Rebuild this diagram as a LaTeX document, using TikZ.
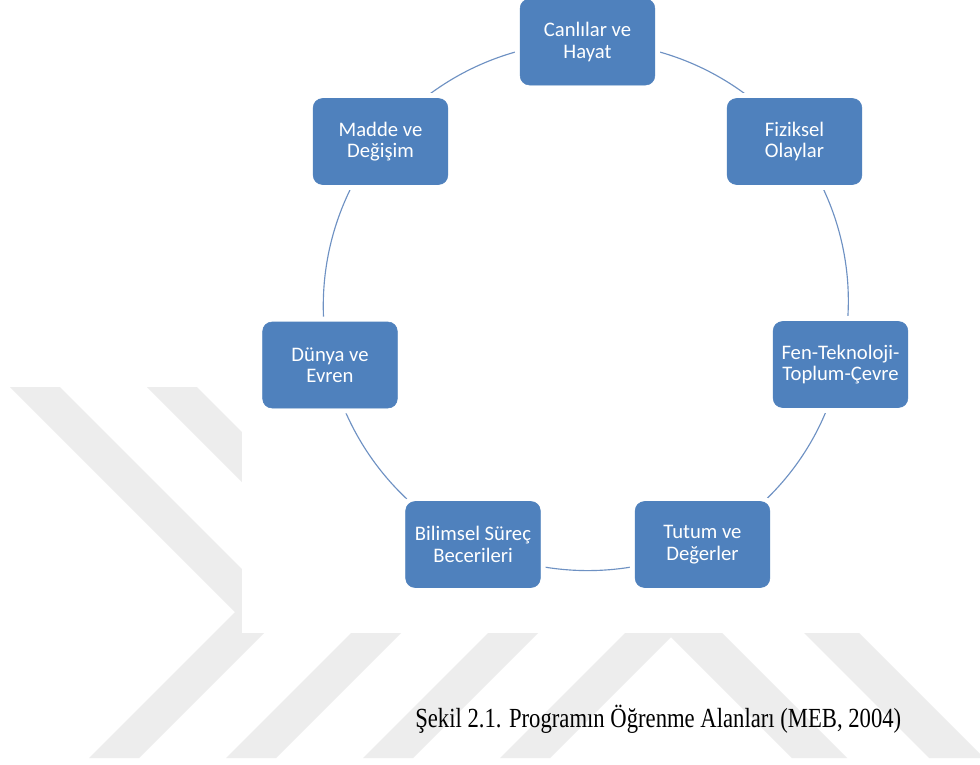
\documentclass[tikz,border=0pt]{standalone}
\usepackage{fontspec}
\usepackage{graphicx}
\setmainfont{Liberation Serif}
\newfontfamily\boxfont{Carlito}
\pgfdeclarelayer{back}
\pgfdeclarelayer{mid}
\pgfsetlayers{back,mid,main}
\definecolor{boxblue}{RGB}{79,129,189}
\definecolor{arcblue}{RGB}{110,145,195}
\definecolor{wmgray}{RGB}{237,237,237}
\begin{document}
\begin{tikzpicture}[x=0.75pt,y=-0.75pt,
  area/.style={rounded corners=7pt, fill=boxblue, draw=boxblue,
    minimum width=101pt, minimum height=64.5pt, inner sep=0pt,
    align=center, text=white,
    font=\boxfont\fontsize{15.5}{16}\selectfont,
    preaction={draw=white, line width=8pt}},
  link/.style={draw=arcblue, line width=0.85pt, bend left=25.7, looseness=0.896},
  wm/.style={fill=wmgray}]
\useasboundingbox (0,0) rectangle (980,764);
\begin{pgfonlayer}{back}
  \fill[white] (0,0) rectangle (980,764);
  \foreach \d in {0,137,274,411}{
    \fill[wm] (10+\d,387) -- (60+\d,387) -- (285+\d,612) -- (139+\d,758)
      -- (89+\d,758) -- (235+\d,612) -- cycle;
  }
  \fill[wm] (614,580) -- (669,580) -- (847,758) -- (792,758) -- cycle;
  \fill[wm] (751,580) -- (806,580) -- (980,754) -- (980,758) -- (929,758) -- cycle;
  \fill[white] (242,0) rectangle (980,633);
\end{pgfonlayer}

\node[area] (can) at (587.5,42) {Canlılar ve\\Hayat};
\node[area] (fiz) at (794.5,141.5) {Fiziksel\\Olaylar};
\node[area] (fen) at (840.5,364.5) {Fen-Teknoloji-\\Toplum-Çevre};
\node[area] (tut) at (702.5,544.5) {Tutum ve\\Değerler};
\node[area] (bil) at (473,544.5) {Bilimsel Süreç\\Becerileri};
\node[area] (dun) at (330,365) {Dünya ve\\Evren};
\node[area] (mad) at (380.5,141.5) {Madde ve\\Değişim};

\begin{pgfonlayer}{mid}
  \draw[link] (can.center) to (fiz.center);
  \draw[link] (fiz.center) to (fen.center);
  \draw[link] (fen.center) to (tut.center);
  \draw[link] (tut.center) to (bil.center);
  \draw[link] (bil.center) to (dun.center);
  \draw[link] (dun.center) to (mad.center);
  \draw[link] (mad.center) to (can.center);
\end{pgfonlayer}

\node[anchor=base west, inner sep=0pt] (cap) at (415,727)
  {\scalebox{1}[1.22]{\fontsize{17}{20}\selectfont Şekil 2.1. Programın Öğrenme Alanları (MEB, 2004)}};
\end{tikzpicture}
\end{document}
